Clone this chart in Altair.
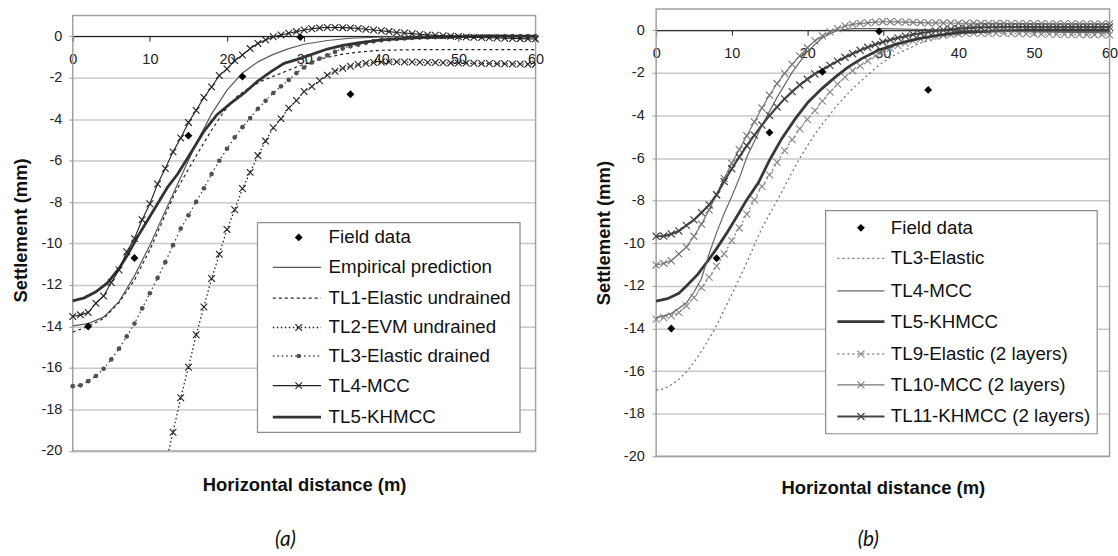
import altair as alt
import pandas as pd

# ---------------- values ----------------
FIELD_X = [2, 8, 15, 22, 29.5, 36]
FIELD_Y = [-14.0, -10.7, -4.8, -1.95, -0.05, -2.8]

DIST = [0, 1, 2, 3, 4, 5, 6, 7, 8, 9, 10, 11, 12, 13, 14, 15, 16, 17, 18, 19, 20,
        21, 22, 23, 24, 25, 26, 27, 28, 29, 30, 31, 32, 33, 34, 35, 36, 37, 38, 39, 40,
        41, 42, 43, 44, 45, 46, 47, 48, 49, 50, 51, 52, 53, 54, 55, 56, 57, 58, 59, 60]
DIST_TL2 = [10, 11, 12, 13, 14, 15, 16, 17, 18, 19, 20, 21, 22, 23, 24, 25, 26, 27, 28, 29, 30,
            31, 32, 33, 34, 35, 36, 37, 38, 39, 40, 41, 42, 43, 44, 45, 46, 47, 48, 49, 50,
            51, 52, 53, 54, 55, 56, 57, 58, 59, 60]

# ---- panel (a)
EMP_X = [0, 2, 4, 6, 8, 10, 12, 14, 16, 18, 20, 22, 24, 26, 28, 30, 33, 36, 40, 45, 50, 55, 60]
EMP_Y = [-13.97, -13.86, -13.55, -12.8, -11.56, -10.08, -8.43, -6.8, -5.18, -3.75, -2.6, -1.78,
         -1.24, -0.88, -0.6, -0.39, -0.21, -0.1, -0.04, -0.01, 0, 0, 0]

TL1_X = [0, 2, 4, 6, 8, 10, 11.5, 13.2, 14.4, 16.1, 17.9, 19.6, 21.3, 23.1, 24.8, 27, 29.1, 31,
         33, 35, 37, 40, 45, 50, 55, 60]
TL1_Y = [-14.27, -14.0, -13.62, -12.85, -11.76, -10.3, -9.04, -7.6, -6.8, -5.71, -4.59, -3.63,
         -2.91, -2.43, -2.11, -1.79, -1.47, -1.23, -1.02, -0.87, -0.77, -0.68, -0.65, -0.65,
         -0.65, -0.65]

TL2_Y = [-24.5, -22.5, -20.7, -19.1, -17.44, -15.97, -14.4, -13.06, -11.69, -10.52,
         -9.32, -8.37, -7.35, -6.57, -5.76, -5.06, -4.42, -3.98, -3.47, -3.1,
         -2.67, -2.43, -2.15, -1.88, -1.69, -1.55, -1.45, -1.37, -1.31, -1.27,
         -1.25, -1.24, -1.24, -1.25, -1.25, -1.26, -1.27, -1.27, -1.28, -1.29,
         -1.3, -1.3, -1.31, -1.32, -1.32, -1.33, -1.33, -1.34, -1.34, -1.35, -1.35]

TL3_Y = [-16.88, -16.84, -16.64, -16.39, -16.04, -15.59, -15.07, -14.48, -13.86, -13.13,
         -12.4, -11.66, -10.9, -10.08, -9.28, -8.64, -7.99, -7.34, -6.65, -6.01,
         -5.43, -4.88, -4.39, -3.95, -3.5, -3.12, -2.74, -2.42, -2.11, -1.78,
         -1.51, -1.27, -1.08, -0.92, -0.76, -0.6, -0.49, -0.41, -0.32, -0.25,
         -0.2, -0.16, -0.13, -0.11, -0.09, -0.07, -0.06, -0.05, -0.04, -0.03,
         -0.03, -0.02, -0.02, -0.01, -0.01, -0.01, 0, 0, 0, 0, 0]

TL4_Y = [-13.52, -13.44, -13.33, -12.88, -12.53, -11.88, -11.28, -10.4, -9.76, -8.85,
         -8.08, -7.13, -6.38, -5.58, -4.91, -4.16, -3.58, -2.96, -2.45, -1.9,
         -1.58, -1.18, -0.91, -0.6, -0.35, -0.18, -0.03, 0.06, 0.14, 0.22,
         0.3, 0.36, 0.4, 0.42, 0.42, 0.41, 0.4, 0.37, 0.33, 0.3,
         0.26, 0.22, 0.18, 0.15, 0.12, 0.09, 0.06, 0.04, 0.02, 0.0,
         -0.02, -0.04, -0.05, -0.07, -0.08, -0.09, -0.1, -0.11, -0.12, -0.13, -0.14]

TL5_X = [0, 1.5, 3, 4.5, 6, 7, 8.4, 9.7, 11, 12.3, 13.6, 15.3, 17, 18.7, 20.5, 22.2, 23.9, 25.7,
         27.4, 29.1, 31, 33, 35, 37, 40, 45, 50, 55, 60]
TL5_Y = [-12.77, -12.62, -12.33, -11.9, -11.2, -10.62, -9.68, -8.88, -8.08, -7.28, -6.65, -5.63,
         -4.59, -3.79, -3.23, -2.75, -2.19, -1.71, -1.31, -1.12, -0.88, -0.62, -0.45, -0.33,
         -0.18, -0.07, -0.02, 0, 0]

# ---- panel (b)
TL4B_X = [0, 2, 4, 5, 6, 7, 8, 9, 10, 11, 12, 14, 16, 18, 20, 22, 24, 26, 30, 40, 50, 60]
TL4B_Y = [-13.5, -13.3, -12.8, -12.3, -11.65, -10.5, -9.5, -8.6, -7.8, -6.95, -5.95, -4.47,
          -3.15, -1.98, -1.0, -0.35, 0.0, 0.08, 0.08, 0.0, -0.08, -0.12]

TL5B_X = [0, 1.5, 3, 4, 5.5, 7, 8, 9.5, 11, 12, 13.5, 15, 16.6, 18.4, 20.1, 21.9, 23.7, 25.4,
          27.2, 29.4, 32, 34.7, 37.3, 40, 45, 50, 55, 60]
TL5B_Y = [-12.71, -12.6, -12.35, -12.0, -11.46, -10.75, -10.25, -9.43, -8.55, -7.95, -7.17,
          -6.1, -5.1, -4.16, -3.38, -2.75, -2.2, -1.73, -1.33, -0.94, -0.63, -0.39, -0.24,
          -0.11, -0.03, 0, 0, 0]

TL9_Y = [-13.56, -13.49, -13.41, -13.25, -12.94, -12.55, -12.08, -11.59, -11.07, -10.5,
         -9.87, -9.28, -8.63, -7.96, -7.33, -6.79, -6.2, -5.65, -5.13, -4.63,
         -4.18, -3.77, -3.33, -2.9, -2.53, -2.2, -1.9, -1.67, -1.43, -1.2,
         -1.0, -0.85, -0.72, -0.6, -0.5, -0.42, -0.35, -0.29, -0.24, -0.2,
         -0.17, -0.15, -0.14, -0.14, -0.14, -0.15, -0.15, -0.16, -0.16, -0.17,
         -0.17, -0.18, -0.18, -0.19, -0.19, -0.2, -0.2, -0.21, -0.21, -0.22, -0.22]

TL10_Y = [-11.02, -10.94, -10.82, -10.5, -10.18, -9.67, -9.1, -8.43, -7.7, -6.95,
          -6.25, -5.6, -4.95, -4.3, -3.65, -3.05, -2.5, -2.02, -1.6, -1.2,
          -0.82, -0.5, -0.26, -0.08, 0.08, 0.2, 0.28, 0.32, 0.35, 0.38,
          0.4, 0.4, 0.39, 0.38, 0.37, 0.36, 0.35, 0.35, 0.34, 0.34,
          0.33, 0.33, 0.33, 0.32, 0.32, 0.32, 0.32, 0.31, 0.31, 0.31,
          0.31, 0.31, 0.3, 0.3, 0.3, 0.3, 0.3, 0.3, 0.3, 0.3, 0.3]

TL11_Y = [-9.67, -9.66, -9.56, -9.42, -9.16, -8.9, -8.56, -8.2, -7.73, -7.1,
          -6.5, -5.95, -5.42, -4.92, -4.45, -4.0, -3.6, -3.22, -2.88, -2.57,
          -2.3, -2.05, -1.85, -1.65, -1.45, -1.27, -1.1, -0.94, -0.8, -0.67,
          -0.55, -0.45, -0.36, -0.28, -0.2, -0.14, -0.08, -0.03, 0.01, 0.05,
          0.08, 0.1, 0.12, 0.13, 0.14, 0.14, 0.15, 0.15, 0.15, 0.15,
          0.15, 0.15, 0.15, 0.15, 0.15, 0.15, 0.15, 0.15, 0.15, 0.15, 0.15]

X_TICKS = [0, 10, 20, 30, 40, 50, 60]
Y_TICKS = [-20, -18, -16, -14, -12, -10, -8, -6, -4, -2, 0]

LEGEND_A = ["Field data", "Empirical prediction", "TL1-Elastic undrained", "TL2-EVM undrained",
            "TL3-Elastic drained", "TL4-MCC", "TL5-KHMCC"]
LEGEND_B = ["Field data", "TL3-Elastic", "TL4-MCC", "TL5-KHMCC", "TL9-Elastic (2 layers)",
            "TL10-MCC (2 layers)", "TL11-KHMCC (2 layers)"]

# ---------------- styles ----------------
FONT = "Liberation Sans"
X_PATH = "M-1,-1L1,1M-1,1L1,-1"

ST_FIELD = dict(line=None, marker=dict(shape="diamond", size=62, filled=True, color="#000000"))
ST_EMP = dict(line=dict(color="#5a5a5a", strokeWidth=1.2), marker=None)
ST_TL1 = dict(line=dict(color="#222222", strokeWidth=1.2, strokeDash=[3, 3]), marker=None)
ST_TL2 = dict(line=dict(color="#222222", strokeWidth=1.3, strokeDash=[1.5, 2.5]),
              marker=dict(shape=X_PATH, size=45, filled=False, color="#222222", strokeWidth=1.1))
ST_TL3 = dict(line=dict(color="#444444", strokeWidth=1.3, strokeDash=[1.5, 3]),
              marker=dict(shape="circle", size=22, filled=True, color="#505050"))
ST_TL4 = dict(line=dict(color="#222222", strokeWidth=1.1),
              marker=dict(shape=X_PATH, size=45, filled=False, color="#222222", strokeWidth=1.1))
ST_TL5 = dict(line=dict(color="#333333", strokeWidth=2.8), marker=None)

ST_B3 = dict(line=dict(color="#777777", strokeWidth=1.3, strokeDash=[2, 3]), marker=None)
ST_B4 = dict(line=dict(color="#666666", strokeWidth=1.2), marker=None)
ST_B5 = dict(line=dict(color="#383838", strokeWidth=2.8), marker=None)
ST_B9 = dict(line=dict(color="#888888", strokeWidth=1.3, strokeDash=[2, 3]),
             marker=dict(shape=X_PATH, size=50, filled=False, color="#888888", strokeWidth=1.1))
ST_B10 = dict(line=dict(color="#777777", strokeWidth=1.2),
              marker=dict(shape=X_PATH, size=50, filled=False, color="#777777", strokeWidth=1.1))
ST_B11 = dict(line=dict(color="#444444", strokeWidth=2.2),
              marker=dict(shape=X_PATH, size=50, filled=False, color="#444444", strokeWidth=1.2))

ONE = pd.DataFrame({"k": [0]})


def series_layers(xs, ys, style, xenc, yenc, clip=False):
    df = pd.DataFrame({"x": xs, "y": ys})
    out = []
    if style["line"]:
        out.append(alt.Chart(df).mark_line(clip=clip, **style["line"]).encode(x=xenc, y=yenc))
    if style["marker"]:
        out.append(alt.Chart(df).mark_point(clip=clip, opacity=1, **style["marker"]).encode(
            x=xenc, y=yenc))
    return out


def legend_layers(labels, styles, box, ys, lx1, lx2, mx, tx):
    out = [alt.Chart(ONE).mark_rect(fill="white", stroke="#8c8c8c", strokeWidth=1.2).encode(
        x=alt.value(box[0]), x2=alt.value(box[2]), y=alt.value(box[1]), y2=alt.value(box[3]))]
    for lab, st, yy in zip(labels, styles, ys):
        if st["line"]:
            out.append(alt.Chart(ONE).mark_rule(**st["line"]).encode(
                x=alt.value(lx1), x2=alt.value(lx2), y=alt.value(yy)))
        if st["marker"]:
            out.append(alt.Chart(ONE).mark_point(opacity=1, **st["marker"]).encode(
                x=alt.value(mx), y=alt.value(yy)))
        out.append(alt.Chart(ONE).mark_text(text=lab, align="left", baseline="middle", font=FONT,
                                            fontSize=18.8, color="#111111").encode(
            x=alt.value(tx), y=alt.value(yy)))
    return out


def panel(W, H, ytop, series, legend_spec, caption, cap_xy, title_y, lab_pad, title_pad):
    xs_scale = alt.Scale(domain=[0, 60], nice=False, zero=False)
    ys_scale = alt.Scale(domain=[-20, ytop], nice=False, zero=False)
    y0 = H * ytop / (ytop + 20.0)
    x_axis = alt.Axis(
        values=X_TICKS, title="Horizontal distance (m)", offset=y0 - H, titleY=title_y,
        titleBaseline="middle", labelFont=FONT, labelFontSize=14.5, labelColor="#222222",
        labelPadding=11, labelFlush=False, tickSize=5, tickColor="#222222", tickWidth=1,
        domainColor="#000000", domainWidth=1, grid=False, labelExpr="'' + datum.value",
        titleFont=FONT, titleFontSize=18.5, titleFontWeight="bold", titleColor="#111111")
    y_axis = alt.Axis(
        values=Y_TICKS, title="Settlement (mm)", grid=True, gridColor="#c8c8c8",
        gridWidth=1.5, domain=False, tickSize=4, tickColor="#999999", labelPadding=lab_pad,
        labelFont=FONT, labelFontSize=14.5, labelColor="#222222", titlePadding=title_pad,
        minExtent=32, maxExtent=32, labelExpr="'' + datum.value", titleFont=FONT,
        titleFontSize=18.5, titleFontWeight="bold", titleColor="#111111")
    xenc = alt.X("x:Q", scale=xs_scale, axis=x_axis)
    yenc = alt.Y("y:Q", scale=ys_scale, axis=y_axis)

    frame_df = pd.DataFrame({"x": [0], "x2": [60], "y": [-20], "y2": [1]})
    frame = alt.Chart(frame_df).mark_rect(fill="white", fillOpacity=0, stroke="#a0a0a0",
                                          strokeWidth=1.5).encode(
        x=xenc, x2="x2:Q", y=yenc, y2="y2:Q")
    layers = [frame]
    for xs, ys, st, clip in series:
        layers += series_layers(xs, ys, st, xenc, yenc, clip)
    layers += legend_layers(*legend_spec)
    layers.append(alt.Chart(ONE).mark_text(text=caption, font="Lato", fontStyle="italic",
                                           fontSize=21, color="#111111", align="center",
                                           baseline="middle").encode(
        x=alt.value(cap_xy[0]), y=alt.value(cap_xy[1])))
    return alt.layer(*layers).properties(width=W, height=H)


# ---------------- panel (a) ----------------
series_a = [
    (EMP_X, EMP_Y, ST_EMP, False),
    (TL1_X, TL1_Y, ST_TL1, False),
    (DIST_TL2, TL2_Y, ST_TL2, True),
    (DIST, TL3_Y, ST_TL3, False),
    (TL5_X, TL5_Y, ST_TL5, False),
    (DIST, TL4_Y, ST_TL4, False),
    (FIELD_X, FIELD_Y, ST_FIELD, False),
]
legend_a = (LEGEND_A, [ST_FIELD, ST_EMP, ST_TL1, ST_TL2, ST_TL3, ST_TL4, ST_TL5],
            (185.4, 214.5, 448.9, 425),
            [229.3, 259.3, 290.3, 319.7, 348.3, 378, 409.7],
            200.8, 249.2, 226.8, 256.8)
pa = panel(464.5, 443.5, 1.312, series_a, legend_a, "(a)", (213.5, 533), 449.7, 7, 10)

# ---------------- panel (b) ----------------
series_b = [
    (DIST, TL3_Y, ST_B3, False),
    (DIST, TL9_Y, ST_B9, False),
    (TL5B_X, TL5B_Y, ST_B5, False),
    (TL4B_X, TL4B_Y, ST_B4, False),
    (DIST, TL10_Y, ST_B10, False),
    (DIST, TL11_Y, ST_B11, False),
    (FIELD_X, FIELD_Y, ST_FIELD, False),
]
legend_b = (LEGEND_B, [ST_FIELD, ST_B3, ST_B4, ST_B5, ST_B9, ST_B10, ST_B11],
            (170.1, 202.3, 442.6, 426.3),
            [219.7, 250.3, 283, 313.7, 346.3, 377.3, 409],
            181.9, 229.1, 205.5, 235.5)
pb = panel(455, 449, 1.0, series_b, legend_b, "(b)", (212.9, 533), 458.4, 8, 11)

chart = alt.hconcat(pa, pb, spacing=120.5, bounds="flush").properties(
    padding={"left": 12, "top": 7, "right": 0, "bottom": 0},
    background="white",
).configure_view(stroke=None)

chart.save("out.html", embed_options={"renderer": "svg", "actions": False})
